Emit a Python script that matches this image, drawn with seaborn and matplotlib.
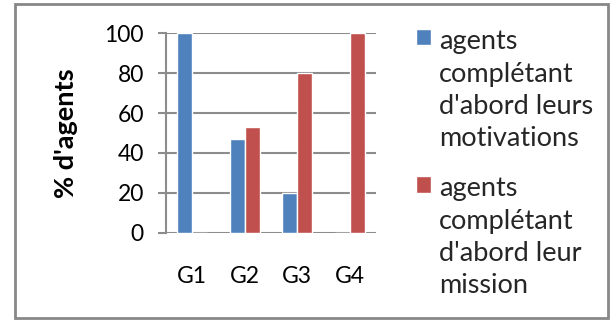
import pandas as pd
import numpy as np
import seaborn as sns
import matplotlib.pyplot as plt
from matplotlib.patches import Rectangle

groups = ["G1", "G2", "G3", "G4"]
motivations = [100, 47, 20, 0]
mission = [0, 53, 80, 100]
series = ["agents\ncomplétant\nd'abord leurs\nmotivations",
          "agents\ncomplétant\nd'abord leur\nmission"]
colors = ["#4F81BD", "#C0504D"]

df = pd.DataFrame({
    "groupe": groups * 2,
    "valeur": motivations + mission,
    "serie": [series[0]] * 4 + [series[1]] * 4,
})

sns.set_style("white")
plt.rcParams['font.family'] = ['Lato', 'DejaVu Sans']

fig = plt.figure(figsize=(6.11, 3.20), dpi=100)
ax = fig.add_axes([0.2717, 0.2728, 0.3437, 0.6232])

sns.barplot(data=df, x="groupe", y="valeur", hue="serie", palette=colors,
            width=0.57, saturation=1, ax=ax, errorbar=None)

grid_col = "#8C8C8C"
ax.set_ylim(0, 100)
ax.set_xlim(-0.5, 3.5)
ax.set_yticks(np.arange(0, 101, 20))
ax.yaxis.grid(True, color=grid_col, linewidth=1.5)
ax.set_axisbelow(True)
for s in ["top", "right", "bottom"]:
    ax.spines[s].set_visible(False)
ax.spines["left"].set_color(grid_col)
ax.spines["left"].set_linewidth(1.5)
ax.tick_params(axis="y", direction="out", length=6, width=1.5, color=grid_col,
               labelsize=16.5, labelcolor="black", pad=10, left=True)
ax.tick_params(axis="x", length=0, labelsize=16.5, labelcolor="black", pad=24)
ax.set_xlabel("")
ax.set_ylabel("% d'agents", fontsize=19.5, fontweight="bold", color="black")
ax.yaxis.set_label_coords(-0.42, 0.5)

leg = fig.legend(*ax.get_legend_handles_labels(), loc="upper left",
                 bbox_to_anchor=(0.681, 0.909), frameon=False,
                 fontsize=19.5, handlelength=0.55, handleheight=0.55,
                 handletextpad=0.3, labelspacing=0.92, borderpad=0,
                 borderaxespad=0)
ax.get_legend().remove()
for t in leg.get_texts():
    t.set_linespacing(1.37)
for col in leg._legend_handle_box.get_children():
    for row in col.get_children():
        row.align = "top"

fig.add_artist(Rectangle((0.0245, 0.005), 0.9705, 0.981, transform=fig.transFigure,
                         fill=False, edgecolor="#888888", linewidth=2))

fig.savefig("out.png", dpi=100)
